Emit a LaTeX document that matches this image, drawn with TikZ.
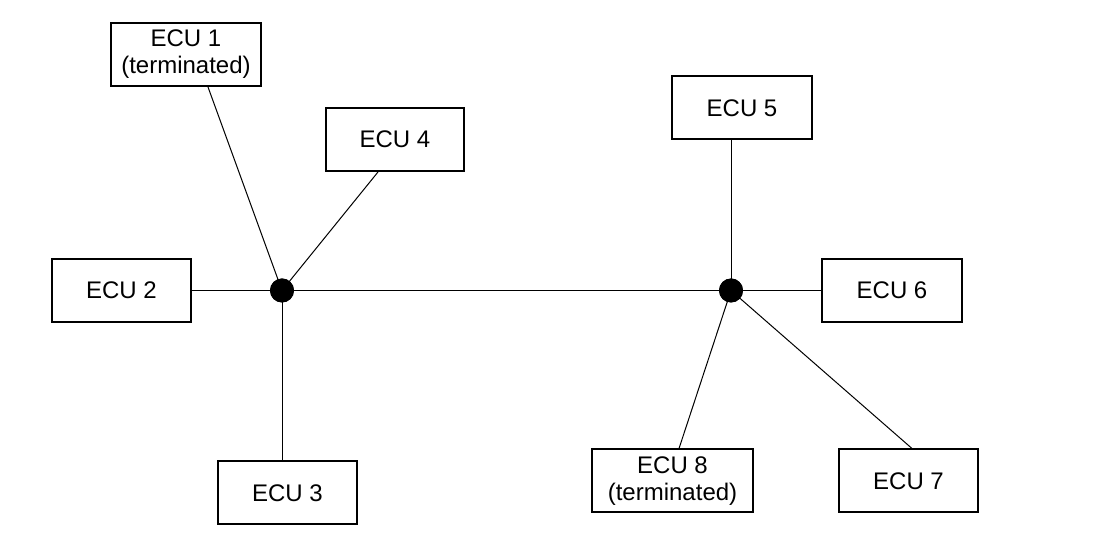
\documentclass[tikz,border=0pt]{standalone}
\usepackage{fontspec}
\setmainfont{Liberation Sans}

\tikzset{
  ecu/.style={draw, line width=1pt, minimum height=31.5pt, inner sep=2pt, align=center,
    font=\fontsize{12}{13.5}\selectfont},
  hub/.style={circle, fill=black, inner sep=0pt, minimum size=12pt},
  wire/.style={line width=0.5pt}
}

\begin{document}
\begin{tikzpicture}[x=0.5pt, y=-0.5pt]
    \useasboundingbox (0,0) rectangle (1113,533);

    % Two bus junctions
    \node[hub] (h1) at (282,290.5) {};
    \node[hub] (h2) at (731,290.5) {};

    % ECUs on the left junction
    \node[ecu, minimum width=75pt] (e1) at (186,54.5) {ECU 1\\(terminated)};
    \node[ecu, minimum width=69pt] (e4) at (395,139.5) {ECU 4};
    \node[ecu, minimum width=69.5pt] (e2) at (121.5,290.5) {ECU 2};
    \node[ecu, minimum width=69.5pt] (e3) at (287.5,493) {ECU 3};

    % ECUs on the right junction
    \node[ecu, minimum width=70pt] (e5) at (742,108) {ECU 5};
    \node[ecu, minimum width=70pt] (e6) at (892,290.5) {ECU 6};
    \node[ecu, minimum width=80.5pt] (e8) at (672.5,481) {ECU 8\\(terminated)};
    \node[ecu, minimum width=69.5pt] (e7) at (908.5,481) {ECU 7};

    % Bus line between the junctions
    \draw[wire] (h1) -- (h2);

    % Stubs to the left junction
    \draw[wire] ([xshift=11pt]e1.south) -- (h1.center);
    \draw[wire] ([xshift=-8.5pt]e4.south) -- (h1.center);
    \draw[wire] (e2.east) -- (h1.center);
    \draw[wire] (h1.center) -- (h1 |- e3.north);

    % Stubs to the right junction
    \draw[wire] (h2 |- e5.south) -- (h2.center);
    \draw[wire] (e6.west) -- (h2.center);
    \draw[wire] ([xshift=3.25pt]e8.north) -- (h2.center);
    \draw[wire] ([xshift=1.75pt]e7.north) -- (h2.center);

    % Junctions on top of the stubs
    \node[hub] at (h1) {};
    \node[hub] at (h2) {};
\end{tikzpicture}
\end{document}
